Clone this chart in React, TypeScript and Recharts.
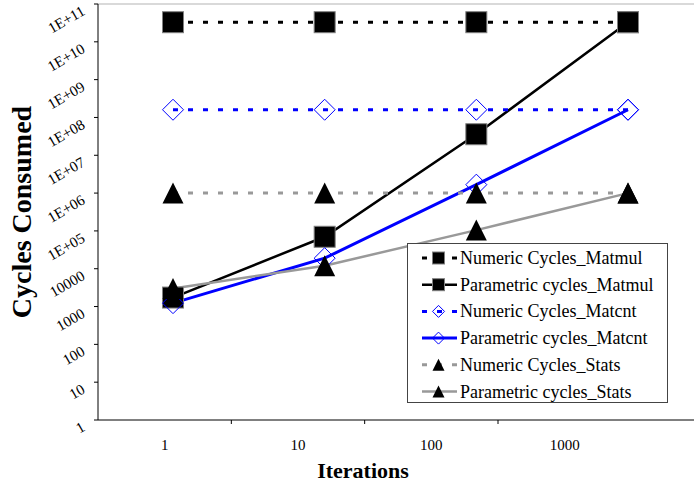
import React from 'react';
import { LineChart, Line, XAxis, YAxis, Legend, ReferenceLine } from 'recharts';

const iterations = ['1', '10', '100', '1000'];
const numericMatmul = [3.3e10, 3.3e10, 3.3e10, 3.3e10];
const parametricMatmul = [1730, 7.0e4, 3.6e7, 3.3e10];
const numericMatcnt = [1.6e8, 1.6e8, 1.6e8, 1.6e8];
const parametricMatcnt = [1230, 1.9e4, 1.67e6, 1.6e8];
const numericStats = [1e6, 1e6, 1e6, 1e6];
const parametricStats = [3000, 1.2e4, 1.05e5, 1e6];
const yTicks = [1, 10, 100, 1000, 10000, 1e5, 1e6, 1e7, 1e8, 1e9, 1e10, 1e11];

const labelTicks = iterations.map((_, i) => i + 0.5);
const markTicks = iterations.slice(1).map((_, i) => i + 1);
const xTicks = [...labelTicks, ...markTicks].sort((a, b) => a - b);

const FONT = '"Liberation Serif", "Times New Roman", serif';

type SeriesMeta = {
  key: string;
  name: string;
  color: string;
  dash?: string;
  width: number;
  marker: 'square' | 'diamond' | 'triangle';
};

const series: SeriesMeta[] = [
  { key: 'nm', name: 'Numeric Cycles_Matmul', color: '#000000', dash: '5 10', width: 3, marker: 'square' },
  { key: 'pm', name: 'Parametric cycles_Matmul', color: '#000000', width: 2.5, marker: 'square' },
  { key: 'nc', name: 'Numeric Cycles_Matcnt', color: '#0000ff', dash: '5 10', width: 3, marker: 'diamond' },
  { key: 'pc', name: 'Parametric cycles_Matcnt', color: '#0000ff', width: 3, marker: 'diamond' },
  { key: 'ns', name: 'Numeric Cycles_Stats', color: '#999999', dash: '5 10', width: 3, marker: 'triangle' },
  { key: 'ps', name: 'Parametric cycles_Stats', color: '#999999', width: 2.5, marker: 'triangle' },
];

const data = iterations.map((it, i) => ({
  iter: it,
  idx: i,
  nm: numericMatmul[i],
  pm: parametricMatmul[i],
  nc: numericMatcnt[i],
  pc: parametricMatcnt[i],
  ns: numericStats[i],
  ps: parametricStats[i],
}));

function Marker({ type, cx, cy, size }: { type: string; cx: number; cy: number; size: number }) {
  const h = size / 2;
  if (type === 'square') {
    return <rect x={cx - h} y={cy - h} width={size} height={size} fill="#000" stroke="#808080" strokeWidth={1} />;
  }
  if (type === 'diamond') {
    return (
      <polygon
        points={`${cx},${cy - h} ${cx + h},${cy} ${cx},${cy + h} ${cx - h},${cy}`}
        fill="none"
        stroke="#0000ff"
        strokeWidth={1}
      />
    );
  }
  return <polygon points={`${cx},${cy - h} ${cx + h},${cy + h} ${cx - h},${cy + h}`} fill="#000" />;
}

function fmtY(v: number) {
  const e = Math.round(Math.log10(v));
  if (e < 5) return String(Math.round(v));
  return `1E+${String(e).padStart(2, '0')}`;
}

const YTick = (props: any) => {
  const { x, y, payload } = props;
  const ay = y + 10;
  return (
    <text
      x={x}
      y={ay}
      textAnchor="end"
      transform={`rotate(-30, ${x}, ${ay})`}
      fontFamily={FONT}
      fontSize={15}
      fill="#000"
    >
      {fmtY(payload.value)}
    </text>
  );
};

const XTick = (props: any) => {
  const { x, y, payload } = props;
  const v = payload.value as number;
  if (Number.isInteger(v)) {
    return <line x1={x} x2={x} y1={y} y2={y + 4} stroke="#000" strokeWidth={1} />;
  }
  return (
    <text x={x} y={y + 30} textAnchor="middle" fontFamily={FONT} fontSize={15} fill="#000">
      {iterations[Math.floor(v)]}
    </text>
  );
};

const renderLegend = () => (
  <div style={{ width: 261, height: 160, border: '1px solid #444', background: '#fff', boxSizing: 'border-box' }}>
    <svg width={259} height={158} style={{ display: 'block' }}>
      {series.map((s, i) => {
        const cy = 14 + 26.7 * i;
        return (
          <g key={s.key}>
            <line x1={14} x2={49} y1={cy} y2={cy} stroke={s.color} strokeWidth={s.width} strokeDasharray={s.dash} />
            <Marker type={s.marker} cx={30.5} cy={cy} size={12} />
            <text x={52} y={cy + 6} fontFamily={FONT} fontSize={18} fill="#000">
              {s.name}
            </text>
          </g>
        );
      })}
    </svg>
  </div>
);

export default function App() {
  return (
    <div style={{ position: 'absolute', left: 0, top: 0, width: 694, height: 485, background: '#fff' }}>
      <LineChart width={694} height={485} data={data} margin={{ top: 4, right: 0, left: 0, bottom: 0 }}>
        <XAxis
          xAxisId="lbl"
          dataKey="idx"
          type="number"
          domain={[0, 4.47]}
          allowDataOverflow
          ticks={xTicks}
          interval={0}
          tick={<XTick />}
          tickLine={false}
          tickSize={0}
          tickMargin={0}
          height={65}
          stroke="#000"
          label={(p: any) => {
            const vb = p.viewBox || { x: 98, y: 420 };
            return (
              <text
                x={vb.x + 265}
                y={vb.y + 58}
                textAnchor="middle"
                fontFamily={FONT}
                fontWeight="bold"
                fontSize={22}
                fill="#000"
              >
                Iterations
              </text>
            );
          }}
        />
        <XAxis xAxisId="data" dataKey="iter" type="category" hide height={0} padding={{ left: 75, right: 66 }} />
        <YAxis
          type="number"
          scale="log"
          domain={[1, 1e11]}
          allowDataOverflow
          ticks={yTicks}
          interval={0}
          width={98}
          tickSize={4}
          tickMargin={8}
          tick={<YTick />}
          stroke="#000"
          label={(p: any) => {
            const vb = p.viewBox || { x: 0, y: 4, height: 416 };
            const cx = vb.x + 31;
            const cy = vb.y + vb.height / 2;
            return (
              <text
                x={cx}
                y={cy}
                textAnchor="middle"
                transform={`rotate(-90, ${cx}, ${cy})`}
                fontFamily={FONT}
                fontWeight="bold"
                fontSize={28}
                fill="#000"
              >
                Cycles Consumed
              </text>
            );
          }}
        />
        <ReferenceLine xAxisId="data" y={1e11} stroke="#d9d9d9" strokeWidth={2} ifOverflow="visible" />
        {series.map((s) => (
          <Line
            key={s.key}
            xAxisId="data"
            dataKey={s.key}
            name={s.name}
            stroke={s.color}
            strokeWidth={s.width}
            strokeDasharray={s.dash}
            isAnimationActive={false}
            dot={(p: any) => <Marker key={`${s.key}-${p.index}`} type={s.marker} cx={p.cx} cy={p.cy} size={21} />}
            activeDot={false}
          />
        ))}
        <Legend
          layout="vertical"
          align="center"
          verticalAlign="middle"
          content={renderLegend}
          wrapperStyle={{ left: 407, top: 243, right: 'auto', bottom: 'auto', width: 261, height: 160 }}
        />
      </LineChart>
    </div>
  );
}
